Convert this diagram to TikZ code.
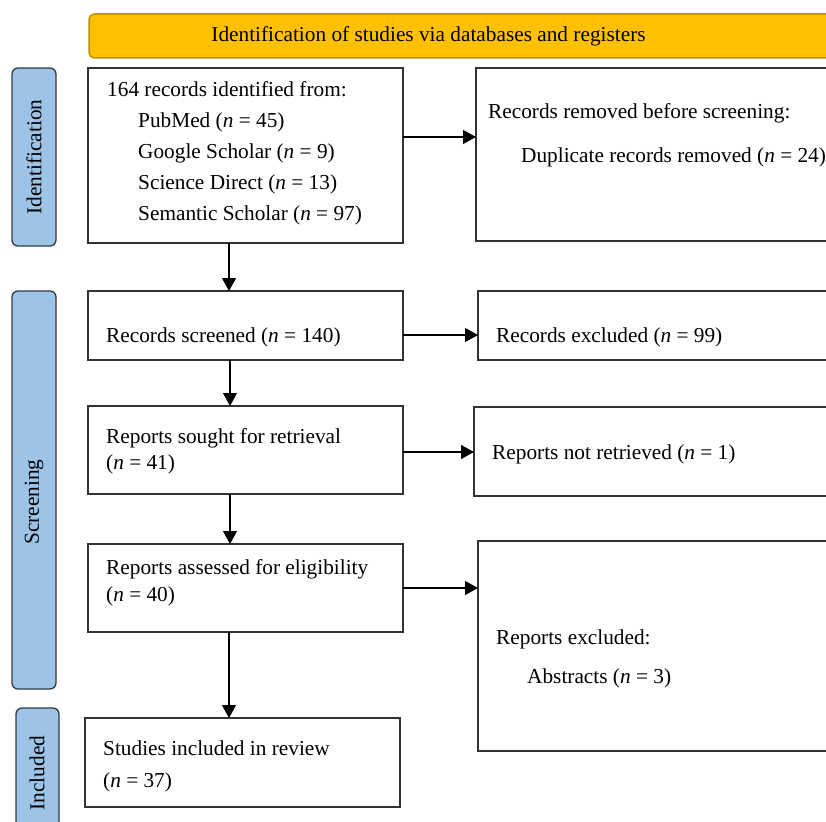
\documentclass[tikz,border=0pt]{standalone}
\usepackage{fontspec}
\setmainfont{Liberation Serif}
\usetikzlibrary{arrows.meta}
\definecolor{bannerfill}{HTML}{FFC000}
\definecolor{bannerline}{HTML}{BF9000}
\definecolor{tabfill}{HTML}{9DC3E6}
\definecolor{tabline}{HTML}{2E3B48}
\definecolor{boxline}{HTML}{333333}
\begin{document}
\begin{tikzpicture}[x=1pt,y=-1pt,
  box/.style={draw=boxline, line width=1.4pt, inner sep=0pt, outer sep=0pt, anchor=north west},
  tab/.style={draw=tabline, fill=tabfill, line width=1.3pt, rounded corners=6pt, inner sep=0pt, outer sep=0pt, anchor=north west},
  banner/.style={draw=bannerline, fill=bannerfill, line width=1.5pt, rounded corners=6pt, inner sep=0pt, outer sep=0pt, anchor=north west},
  txt/.style={anchor=base west, inner sep=0pt, font=\fontsize{21.3}{25}\selectfont},
  tablabel/.style={anchor=center, inner sep=0pt, rotate=90, font=\fontsize{21.3}{25}\selectfont},
  arr/.style={draw=black, line width=1.2pt, -{Triangle[length=13pt,width=14pt]}}]
\useasboundingbox (0,0) rectangle (826,821);
\clip (0,0) rectangle (826,821);

% banner
\node[banner, minimum width=780pt, minimum height=44pt] (banner) at (89,14) {};
\node[anchor=base, inner sep=0pt, font=\fontsize{21.3}{25}\selectfont] (bannertext) at (428.5,42) {Identification of studies via databases and registers};

% phase tabs
\node[tab, minimum width=44pt, minimum height=178pt] (tabI) at (12,68) {};
\node[tablabel] (tabItext) at (34,157) {Identification};
\node[tab, minimum width=44pt, minimum height=398pt] (tabS) at (12,291) {};
\node[tablabel] (tabStext) at (34,502) {Screening};
\node[tab, minimum width=43pt, minimum height=160pt] (tabN) at (16,708) {};
\node[tablabel] (tabNtext) at (37,773) {Included};

% left boxes
\node[box, minimum width=315pt, minimum height=175pt] (b1) at (88,68) {};
\node[txt] (b1t1) at (107,97) {164 records identified from:};
\node[txt] (b1t2) at (138,128) {PubMed (\textit{n} = 45)};
\node[txt] (b1t3) at (138,159) {Google Scholar (\textit{n} = 9)};
\node[txt] (b1t4) at (138,189) {Science Direct (\textit{n} = 13)};
\node[txt] (b1t5) at (138,220) {Semantic Scholar (\textit{n} = 97)};

\node[box, minimum width=315pt, minimum height=69pt] (b3) at (88,291) {};
\node[txt] (b3t1) at (106,342) {Records screened (\textit{n} = 140)};

\node[box, minimum width=315pt, minimum height=88pt] (b5) at (88,406) {};
\node[txt] (b5t1) at (106,443) {Reports sought for retrieval};
\node[txt] (b5t2) at (106,469) {(\textit{n} = 41)};

\node[box, minimum width=315pt, minimum height=88pt] (b7) at (88,544) {};
\node[txt] (b7t1) at (106,574) {Reports assessed for eligibility};
\node[txt] (b7t2) at (106,601) {(\textit{n} = 40)};

\node[box, minimum width=315pt, minimum height=89pt] (b9) at (85,718) {};
\node[txt] (b9t1) at (103,755) {Studies included in review};
\node[txt] (b9t2) at (103,787) {(\textit{n} = 37)};

% right boxes
\node[box, minimum width=380pt, minimum height=173pt] (b2) at (476,68) {};
\node[txt] (b2t1) at (488,119) {Records removed before screening:};
\node[txt] (b2t2) at (521,162) {Duplicate records removed (\textit{n} = 24)};

\node[box, minimum width=380pt, minimum height=69pt] (b4) at (478,291) {};
\node[txt] (b4t1) at (496,342) {Records excluded (\textit{n} = 99)};

\node[box, minimum width=380pt, minimum height=89pt] (b6) at (474,407) {};
\node[txt] (b6t1) at (492,459) {Reports not retrieved (\textit{n} = 1)};

\node[box, minimum width=380pt, minimum height=210pt] (b8) at (478,541) {};
\node[txt] (b8t1) at (496,644) {Reports excluded:};
\node[txt] (b8t2) at (527,683) {Abstracts (\textit{n} = 3)};

% connector guides
\coordinate (vx1) at (229,0);
\coordinate (vx2) at (230,0);
\coordinate (hy1) at (0,137);
\coordinate (hy2) at (0,335);
\coordinate (hy3) at (0,452);
\coordinate (hy4) at (0,588);

% vertical arrows
\draw[arr] (b1.south -| vx1) -- (b3.north -| vx1);
\draw[arr] (b3.south -| vx2) -- (b5.north -| vx2);
\draw[arr] (b5.south -| vx2) -- (b7.north -| vx2);
\draw[arr] (b7.south -| vx1) -- (b9.north -| vx1);

% horizontal arrows
\draw[arr] (b1.east |- hy1) -- (b2.west |- hy1);
\draw[arr] (b3.east |- hy2) -- (b4.west |- hy2);
\draw[arr] (b5.east |- hy3) -- (b6.west |- hy3);
\draw[arr] (b7.east |- hy4) -- (b8.west |- hy4);
\end{tikzpicture}
\end{document}
